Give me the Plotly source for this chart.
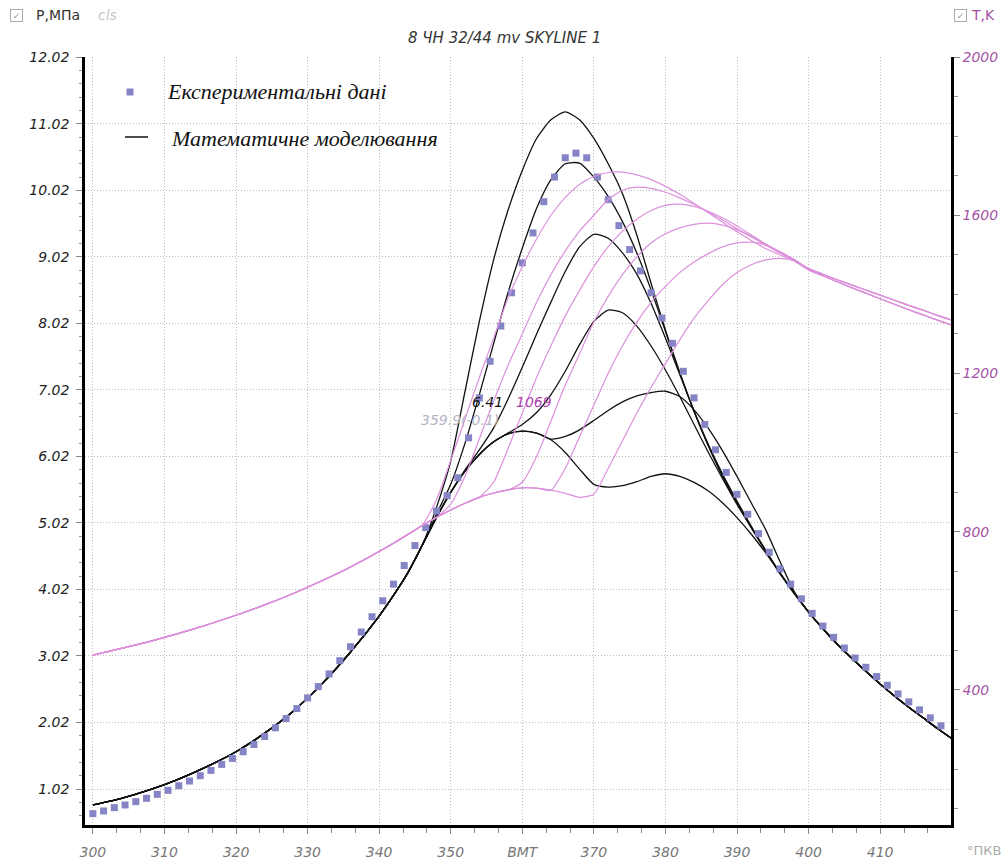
import plotly.graph_objects as go

# ---------------- data ----------------
x_exp = [300 + 1.5 * i for i in range(80)]
p_exp = [0.65, 0.69, 0.74, 0.78, 0.83, 0.88, 0.94, 1.00, 1.07, 1.14,
         1.22, 1.30, 1.39, 1.48, 1.58, 1.69, 1.81, 1.94, 2.08, 2.23,
         2.39, 2.56, 2.75, 2.95, 3.16, 3.38, 3.61, 3.85, 4.10, 4.38,
         4.68, 4.95, 5.20, 5.43, 5.70, 6.30, 6.90, 7.45, 7.98, 8.48,
         8.93, 9.38, 9.85, 10.22, 10.51, 10.58, 10.51, 10.22, 9.88, 9.49,
         9.13, 8.81, 8.48, 8.10, 7.72, 7.30, 6.90, 6.50, 6.12, 5.78,
         5.45, 5.15, 4.86, 4.58, 4.33, 4.10, 3.88, 3.66, 3.47, 3.30,
         3.14, 2.99, 2.85, 2.71, 2.58, 2.45, 2.33, 2.21, 2.09, 1.97]

x_pre = [300, 304, 308, 312, 316, 320, 324, 328, 332, 336, 340, 342, 344, 346]
p_pre = [0.78, 0.88, 1.01, 1.17, 1.36, 1.58, 1.86, 2.19, 2.60, 3.08, 3.62, 3.93, 4.27, 4.68]
t_pre = [488, 505, 523, 543, 565, 589, 615, 644, 676, 711, 750, 771, 793, 816]

x_mid = [348, 350, 352, 354, 356, 358, 360, 362, 364, 366, 368, 370, 372,
         374, 376, 378, 380, 382, 384, 386, 388, 390, 392, 394, 396, 398]
p_c1 = [5.25, 5.95, 7.00, 8.05, 8.98, 9.72, 10.32, 10.80, 11.08, 11.20, 11.08, 10.80, 10.42,
        9.97, 9.35, 8.62, 7.92, 7.28, 6.70, 6.18, 5.72, 5.32, 4.95, 4.60, 4.26, 3.96]
p_c2 = [5.15, 5.60, 6.22, 6.95, 7.72, 8.48, 9.15, 9.75, 10.18, 10.42, 10.43, 10.22, 9.93,
        9.55, 9.08, 8.52, 7.90, 7.28, 6.70, 6.18, 5.72, 5.32, 4.95, 4.60, 4.26, 3.96]
p_c3 = [5.10, 5.48, 5.82, 6.12, 6.45, 6.88, 7.36, 7.86, 8.34, 8.80, 9.17, 9.36, 9.30,
        9.08, 8.76, 8.32, 7.80, 7.25, 6.70, 6.20, 5.75, 5.35, 4.97, 4.61, 4.27, 3.96]
p_c4 = [5.10, 5.48, 5.80, 6.05, 6.24, 6.37, 6.50, 6.68, 6.95, 7.30, 7.70, 8.05, 8.22,
        8.18, 7.98, 7.68, 7.32, 6.92, 6.50, 6.08, 5.68, 5.30, 4.95, 4.60, 4.27, 3.96]
p_c5 = [5.10, 5.48, 5.80, 6.05, 6.24, 6.36, 6.40, 6.37, 6.28, 6.32, 6.42, 6.56, 6.71,
        6.84, 6.93, 6.98, 7.00, 6.92, 6.72, 6.44, 6.10, 5.72, 5.32, 4.92, 4.44, 3.99]
p_c6 = [5.10, 5.48, 5.80, 6.05, 6.24, 6.36, 6.40, 6.37, 6.27, 6.08, 5.83, 5.60, 5.56,
        5.58, 5.64, 5.72, 5.76, 5.72, 5.63, 5.50, 5.32, 5.10, 4.85, 4.57, 4.27, 3.97]

t_b1 = [880, 980, 1085, 1190, 1290, 1390, 1470, 1540, 1600, 1645, 1678, 1698, 1708,
        1709, 1702, 1690, 1673, 1653, 1630, 1606, 1582, 1558, 1536, 1516, 1500, 1484]
t_b2 = [836, 870, 940, 1035, 1130, 1220, 1300, 1380, 1450, 1510, 1560, 1600, 1640,
        1663, 1671, 1668, 1658, 1644, 1627, 1608, 1588, 1566, 1545, 1524, 1505, 1486]
t_b3 = [836, 855, 872, 887, 925, 1010, 1100, 1190, 1270, 1345, 1410, 1470, 1520,
        1560, 1590, 1612, 1625, 1628, 1622, 1610, 1593, 1573, 1550, 1527, 1506, 1486]
t_b4 = [836, 855, 872, 887, 898, 906, 925, 990, 1080, 1170, 1250, 1330, 1395,
        1450, 1495, 1530, 1553, 1568, 1577, 1580, 1575, 1563, 1547, 1527, 1507, 1488]
t_b5 = [836, 855, 872, 887, 898, 906, 911, 910, 905, 960, 1040, 1120, 1200,
        1270, 1330, 1380, 1420, 1455, 1482, 1503, 1520, 1530, 1532, 1525, 1508, 1488]
t_b6 = [836, 855, 872, 887, 898, 906, 911, 910, 905, 897, 887, 895, 960,
        1030, 1100, 1165, 1225, 1285, 1340, 1385, 1425, 1455, 1475, 1487, 1491, 1485]

x_tail = [400, 402, 404, 406, 408, 410, 412, 414, 416, 418, 420]
p_tail = [3.68, 3.43, 3.20, 2.99, 2.79, 2.60, 2.42, 2.25, 2.09, 1.93, 1.78]
t_tail_a = [1465, 1451, 1437, 1424, 1411, 1398, 1385, 1372, 1360, 1347, 1335]
t_tail_b = [1462, 1447, 1432, 1417, 1403, 1389, 1375, 1361, 1348, 1335, 1322]

p_curves = [p_c1, p_c2, p_c3, p_c4, p_c5, p_c6]
t_curves = [(t_b1, t_tail_b), (t_b2, t_tail_b), (t_b3, t_tail_b),
            (t_b4, t_tail_a), (t_b5, t_tail_a), (t_b6, t_tail_a)]

x_ticks = [300, 310, 320, 330, 340, 350, 360, 370, 380, 390, 400, 410]
x_ticktext = ["300", "310", "320", "330", "340", "350", "ВМТ", "370", "380", "390", "400", "410"]
p_ticks = [1.02, 2.02, 3.02, 4.02, 5.02, 6.02, 7.02, 8.02, 9.02, 10.02, 11.02, 12.02]
t_ticks = [400, 800, 1200, 1600, 2000]

# ---------------- figure ----------------
W, H = 1008, 861
L, R, T, B = 85, 951, 57, 825
PINK = "rgb(220,145,220)"
EXP = "#8585c6"
FONT = "DejaVu Sans"


def px(xp):
    return (xp - L) / (R - L)


def py(yp):
    return (B - yp) / (B - T)


fig = go.Figure()
x_full = x_pre + x_mid + x_tail
for tb, tt in t_curves:
    fig.add_trace(go.Scatter(x=x_full, y=t_pre + tb + tt, yaxis="y2", mode="lines",
                             line=dict(color=PINK, width=1.2, shape="spline", smoothing=0.6),
                             showlegend=False, hoverinfo="skip"))
for pc in p_curves:
    fig.add_trace(go.Scatter(x=x_full, y=p_pre + pc + p_tail, mode="lines",
                             line=dict(color="#111111", width=1.3, shape="spline", smoothing=0.6),
                             showlegend=False, hoverinfo="skip"))
fig.add_trace(go.Scatter(x=x_exp, y=p_exp, mode="markers",
                         marker=dict(symbol="square", size=7, color=EXP),
                         showlegend=False))

grid = dict(showgrid=True, gridcolor="#bdbdbd", gridwidth=1, griddash="1px,2px", zeroline=False)

fig.update_layout(
    width=W, height=H,
    margin=dict(l=L, r=W - R, t=T, b=H - B, autoexpand=False),
    paper_bgcolor="white", plot_bgcolor="white",
    showlegend=False,
    xaxis=dict(range=[298.9, 419.9], tickvals=x_ticks, ticktext=x_ticktext, automargin=False,
               ticks="outside", ticklen=6, tickcolor="#888", tickwidth=1,
               showline=True, linecolor="black", linewidth=2.5,
               tickfont=dict(family=FONT, size=14, color="#777", style="italic"),
               ticklabelstandoff=6,
               minor=dict(dtick=10 / 3, tick0=300, ticks="outside", ticklen=5, tickcolor="#888"),
               **grid),
    yaxis=dict(range=[0.479, 12.025], tickvals=p_ticks, ticktext=[f"{v:.2f}" for v in p_ticks],
               automargin=False,
               ticks="outside", ticklen=6, tickcolor="#888",
               showline=True, linecolor="black", linewidth=2.5,
               tickfont=dict(family=FONT, size=14, color="#222", style="italic"),
               ticklabelstandoff=4,
               minor=dict(dtick=0.2, tick0=0.02, ticks="outside", ticklen=3, tickcolor="#999"),
               **grid),
    yaxis2=dict(range=[58.7, 2000], overlaying="y", side="right", tickvals=t_ticks, automargin=False,
                ticks="outside", ticklen=6, tickcolor="#888",
                showline=True, linecolor="black", linewidth=2.5, showgrid=False, zeroline=False,
                tickfont=dict(family=FONT, size=14, color="#a454a4", style="italic"),
                minor=dict(dtick=100, ticks="outside", ticklen=4, tickcolor="#999")),
)

ann = []


def text(xp, yp, s, size=14, color="#222", style="normal", family=FONT, anchor="left"):
    ann.append(dict(x=px(xp), y=py(yp), xref="paper", yref="paper", text=s, showarrow=False,
                    xanchor=anchor, yanchor="middle",
                    font=dict(family=family, size=size, color=color, style=style)))


# header
text(504, 38, "8 ЧН 32/44 mv SKYLINE 1", size=15, color="#333", style="italic", anchor="center")
text(34, 15, "P,МПа", size=14, color="#333")
text(96, 15, "cls", size=14, color="#c8c8c8", style="italic")
text(969, 15, "T,K", size=14, color="#a050a0")
text(1003, 850, "°ПКВ", size=13, color="#aaa", anchor="right")
for cx in (16, 960):
    ann.append(dict(x=px(cx), y=py(15), xref="paper", yref="paper", text="✓", showarrow=False,
                    xanchor="center", yanchor="middle", bordercolor="#aaa", borderwidth=1,
                    borderpad=0, width=11, height=11,
                    font=dict(family=FONT, size=9, color="#999")))

# legend
text(165, 92, "Експериментальні дані", size=22, color="#111", style="italic", family="Liberation Serif")
text(169, 138, "Математичне моделювання", size=22, color="#111", style="italic", family="Liberation Serif")

# cursor readouts
ann.append(dict(x=355.2, y=6.84, xref="x", yref="y", text="6.41", showarrow=False,
                font=dict(family=FONT, size=14, color="#111", style="italic")))
ann.append(dict(x=361.6, y=6.84, xref="x", yref="y", text="1069", showarrow=False,
                font=dict(family=FONT, size=14, color="#b040b0", style="italic")))
ann.append(dict(x=351.3, y=6.57, xref="x", yref="y", text="359.9(-0.1)", showarrow=False,
                font=dict(family=FONT, size=14, color="#b4b4c4", style="italic")))

fig.update_layout(annotations=ann, shapes=[
    dict(type="rect", xref="paper", yref="paper", x0=px(126.5), x1=px(133.5), y0=py(95.5), y1=py(88.5),
         fillcolor=EXP, line=dict(width=0)),
    dict(type="line", xref="paper", yref="paper", x0=px(125), x1=px(148), y0=py(137), y1=py(137),
         line=dict(color="#111", width=1.5)),
])

fig.write_html("out.html")
